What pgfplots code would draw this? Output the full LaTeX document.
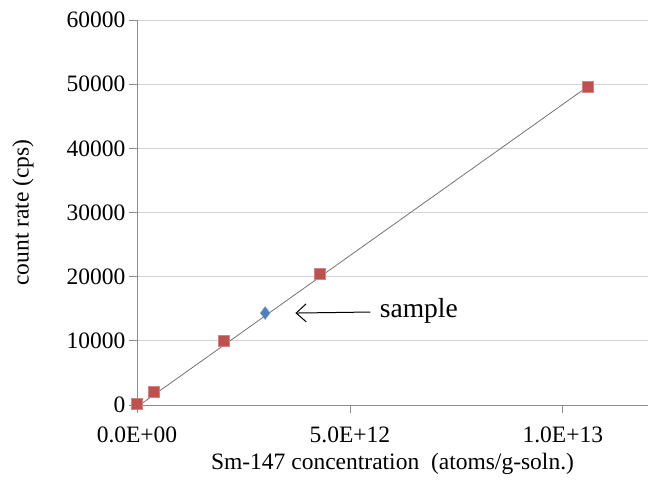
\documentclass[border=0pt]{standalone}
\usepackage{pgfplots}
\pgfplotsset{compat=1.18}
\usetikzlibrary{arrows.meta}
\usepackage{fontspec}
\setmainfont{Liberation Serif}
\definecolor{sred}{HTML}{C0504D}
\definecolor{sblue}{HTML}{4F81BD}
\begin{document}
\begin{tikzpicture}
\begin{axis}[
  scale only axis,
  width=511pt, height=385pt,
  xmin=0, xmax=1.2e13,
  ymin=0, ymax=60000,
  scaled ticks=false,
  axis x line*=bottom, axis y line*=left,
  axis line style={draw=black!45, line width=0.8pt},
  xtick={0,5e12,1e13},
  xticklabels={0.0E+00,5.0E+12,1.0E+13},
  ytick={0,10000,20000,30000,40000,50000,60000},
  yticklabels={0,10000,20000,30000,40000,50000,60000},
  tick align=outside,
  major tick length=8pt,
  tick style={draw=black!45, line width=0.8pt},
  ymajorgrids,
  grid style={draw=black!17, line width=0.9pt},
  ticklabel style={font=\fontsize{23.5}{28}\selectfont},
  xticklabel style={yshift=-10pt},
  yticklabel style={xshift=0pt},
  xlabel={Sm-147 concentration\ \ (atoms/g-soln.)},
  ylabel={count rate (cps)},
  label style={font=\fontsize{23.5}{28}\selectfont},
  xlabel style={at={(axis description cs:0.5,0)}, anchor=center, yshift=-59pt},
  ylabel style={at={(axis description cs:0,0.5)}, anchor=center, rotate=0, yshift=114pt},
  clip=false,
]
\addplot[black!55, line width=0.8pt] coordinates {(0,-300) (1.059e13,49650)};
\addplot[only marks, mark=square*, mark size=5.5pt, color=sred, mark options={draw=sred!70!white, line width=0.6pt, fill=sred}] coordinates {
(0.0e12,150) (0.4e12,2000) (2.05e12,10000) (4.3e12,20500) (10.59e12,49650)};
\addplot[only marks, mark=diamond*, mark size=6.5pt, color=sblue, mark options={draw=sblue!75!white, fill=sblue}] coordinates {(3.01e12,14330)};
\draw[-{Straight Barb[length=10pt,width=18pt]}, line width=1pt] (axis cs:5.48e12,14490) -- (axis cs:3.72e12,14330);
\node[anchor=west, font=\fontsize{27.5}{32}\selectfont] at (axis cs:5.62e12,14700) {sample};
\end{axis}
\pgfresetboundingbox
\path[use as bounding box] ([shift={(-137pt,-74pt)}]current axis.south west) rectangle ([shift={(4pt,20pt)}]current axis.north east);
\end{tikzpicture}
\end{document}
